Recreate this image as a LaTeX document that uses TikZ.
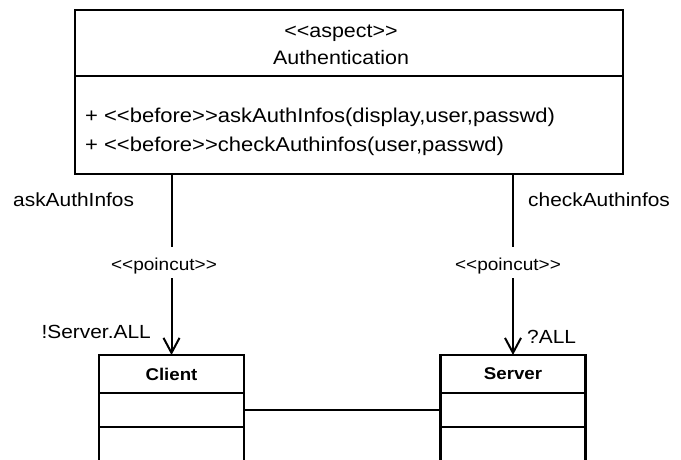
\documentclass[tikz,border=0pt]{standalone}
\usepackage{fontspec}
\setmainfont{Liberation Sans}[FakeStretch=1.1]
\usetikzlibrary{arrows.meta}
\begin{document}
\begin{tikzpicture}[x=1pt,y=-1pt,
  outline/.style={draw,line width=2.2pt,inner sep=0pt,outer sep=0pt},
  box/.style={outline,minimum width=145pt},
  conn/.style={line width=2pt},
  arr/.style={conn,-{Straight Barb[length=15pt,width=16pt]}},
  hdr/.style={inner sep=0pt,font=\fontsize{19.5}{23}\selectfont},
  opf/.style={inner sep=0pt,font=\fontsize{20}{24}\selectfont},
  lbl/.style={inner sep=0pt,font=\fontsize{19}{23}\selectfont},
  small/.style={inner sep=0pt,font=\fontsize{17.3}{20}\selectfont},
  cname/.style={font=\bfseries\fontsize{17}{20}\selectfont}]
\clip (0,0) rectangle (681,459);
\fill[white] (0,0) rectangle (681,459);
% aspect box
\node[outline,minimum width=548pt,minimum height=164pt] (auth) at (349,92) {};
\draw[line width=2.2pt] (auth.west |- 0,76) -- (auth.east |- 0,76);
\node[hdr,anchor=base] (stereo) at (341,37) {<{}<aspect>{}>};
\node[hdr,anchor=base] (aname) at (341,64) {Authentication};
\node[opf,anchor=base west] (op1) at (85,122.5) {+ <{}<before>{}>askAuthInfos(display,user,passwd)};
\node[opf,anchor=base west] (op2) at (85,151.5) {+ <{}<before>{}>checkAuthinfos(user,passwd)};
% classes
\node[box,cname,minimum height=38pt] (client) at (171.5,374) {Client};
\node[box,minimum height=34pt,anchor=north] (clientattr) at (client.south) {};
\node[box,minimum height=38pt,anchor=north] (clientops) at (clientattr.south) {};
\node[box,cname,minimum height=38pt] (server) at (513,374) {Server};
\node[box,minimum height=34pt,anchor=north] (serverattr) at (server.south) {};
\node[box,minimum height=38pt,anchor=north] (serverops) at (serverattr.south) {};
\draw[conn] (clientattr.east) -- (serverattr.west);
% pointcut connectors
\coordinate (g1t) at (171.5,247);
\coordinate (g1b) at (171.5,278);
\coordinate (g2t) at (513,247);
\coordinate (g2b) at (513,278);
\draw[conn] (auth.south -| client.north) -- (g1t);
\draw[arr] (g1b) -- (client.north);
\draw[conn] (auth.south -| server.north) -- (g2t);
\draw[arr] (g2b) -- (server.north);
\node[small,anchor=base] (pc1) at (164,270) {<{}<poincut>{}>};
\node[small,anchor=base] (pc2) at (508,270) {<{}<poincut>{}>};
\node[lbl,anchor=base west] (la) at (13,206) {askAuthInfos};
\node[lbl,anchor=base west] (lc) at (528,206) {checkAuthinfos};
\node[lbl,anchor=base east] (sa) at (151,338) {!Server.ALL};
\node[lbl,anchor=base west] (qa) at (527,343) {?ALL};
\end{tikzpicture}
\end{document}
